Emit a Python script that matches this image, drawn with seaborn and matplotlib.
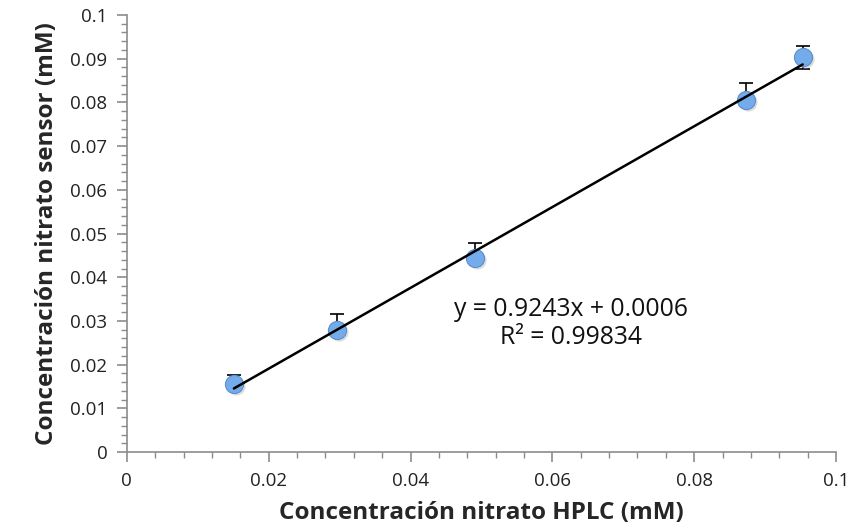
import matplotlib
matplotlib.use("Agg")
from matplotlib import pyplot as plt
from matplotlib.ticker import MultipleLocator, AutoMinorLocator
import seaborn as sns
import pandas as pd

# values
hplc = [0.0151, 0.0296, 0.0491, 0.0873, 0.0953]
sensor = [0.0156, 0.0279, 0.0444, 0.0805, 0.0904]
err_low = [0.0007, 0.0012, 0.0012, 0.0010, 0.0027]
err_high = [0.0021, 0.0037, 0.0035, 0.0039, 0.0026]
slope = 0.9243
intercept = 0.0006
eq_text = "y = 0.9243x + 0.0006\nR² = 0.99834"

df = pd.DataFrame({"hplc": hplc, "sensor": sensor})
fit = pd.DataFrame({"hplc": [min(hplc), max(hplc)]})
fit["sensor"] = slope * fit["hplc"] + intercept

sns.set_theme(style="white")
plt.rcParams["font.family"] = ["Open Sans", "DejaVu Sans"]

fig = plt.figure(figsize=(8.57, 5.30), dpi=100)
ax = fig.add_axes([0.148, 0.147, 0.8275, 0.8247])

ax.errorbar(df["hplc"], df["sensor"], yerr=[err_low, err_high], fmt="none",
            ecolor="black", elinewidth=1.2, capsize=5, capthick=1.2, zorder=2)
# soft shadow under markers
sns.scatterplot(x=df["hplc"] + 0.0003, y=df["sensor"] - 0.0004, ax=ax, s=170,
                color="#bbbbbb", alpha=0.5, linewidth=0, zorder=3, legend=False)
sns.scatterplot(data=df, x="hplc", y="sensor", ax=ax, s=170, color="#74abea",
                edgecolor="#5a8fcc", linewidth=0.8, zorder=4, legend=False)
sns.lineplot(data=fit, x="hplc", y="sensor", ax=ax, color="black", lw=1.8, zorder=5)

ax.text(0.0626, 0.0294, eq_text, ha="center", va="center", fontsize=17.8,
        linespacing=1.15, color="#111111")

ax.set_xlim(0, 0.1)
ax.set_ylim(0, 0.1)
ax.xaxis.set_major_locator(MultipleLocator(0.02))
ax.yaxis.set_major_locator(MultipleLocator(0.01))
ax.xaxis.set_minor_locator(AutoMinorLocator(5))
ax.yaxis.set_minor_locator(AutoMinorLocator(5))
ax.xaxis.set_major_formatter(plt.FuncFormatter(lambda v, p: f"{v:g}"))
ax.yaxis.set_major_formatter(plt.FuncFormatter(lambda v, p: f"{v:g}"))

ax.tick_params(which="major", direction="out", length=7, width=1.2, color="#8c8c8c",
               labelsize=13.5, labelcolor="#222222", pad=7, bottom=True, left=True)
ax.tick_params(which="minor", direction="out", length=4, width=1.0, color="#8c8c8c",
               bottom=True, left=True)
for side in ["top", "right"]:
    ax.spines[side].set_visible(False)
for side in ["left", "bottom"]:
    ax.spines[side].set_color("#8c8c8c")
    ax.spines[side].set_linewidth(1.2)

ax.set_xlabel("Concentración nitrato HPLC (mM)", fontsize=17.5, fontweight="bold", labelpad=8)
ax.set_ylabel("Concentración nitrato sensor (mM)", fontsize=17.5, fontweight="bold", labelpad=8)

fig.savefig("out.png", dpi=100)
